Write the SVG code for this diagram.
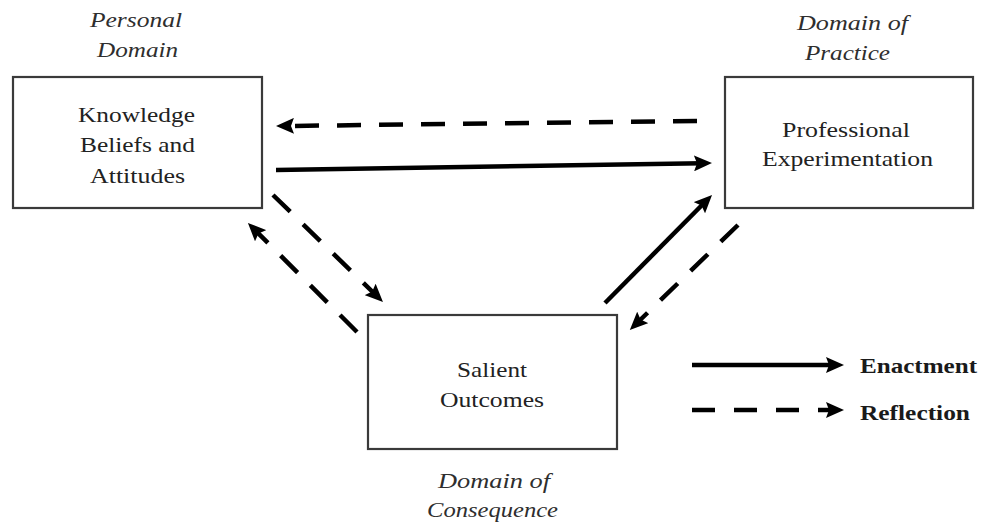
<svg xmlns="http://www.w3.org/2000/svg" width="983" height="523" viewBox="0 0 983 523">
  <style>
    .box { fill: #ffffff; stroke: #3a3a3a; stroke-width: 2.2; }
    .label { font-family: "Liberation Serif", "Times New Roman", serif; font-size: 22px; fill: #222222; }
    .domain { font-family: "Liberation Serif", "Times New Roman", serif; font-size: 22px; font-style: italic; fill: #2e2e2e; }
    .legend { font-family: "Liberation Serif", "Times New Roman", serif; font-size: 21px; font-weight: bold; fill: #1a1a1a; }
    .enact { fill: none; stroke: #000000; stroke-width: 4.5; marker-end: url(#head); }
    .reflect { fill: none; stroke: #000000; stroke-width: 4.5; stroke-dasharray: 24 18; marker-end: url(#head); }
  </style>
  <defs>
    <marker id="head" viewBox="0 0 18 16" refX="8" refY="8" markerWidth="18" markerHeight="16" markerUnits="userSpaceOnUse" orient="auto">
      <path d="M0,0 L18,8 L0,16 L3,8 Z" fill="#000000"/>
    </marker>
  </defs>

  <rect width="983" height="523" fill="#ffffff"/>

  <!-- Personal domain -->
  <g id="knowledge">
    <text class="domain" x="90" y="27" textLength="92" lengthAdjust="spacingAndGlyphs">Personal</text>
    <text class="domain" x="97" y="57" textLength="81" lengthAdjust="spacingAndGlyphs">Domain</text>
    <rect class="box" x="13" y="77" width="249" height="131"/>
    <text class="label" x="78" y="122" textLength="117" lengthAdjust="spacingAndGlyphs">Knowledge</text>
    <text class="label" x="80" y="152" textLength="115" lengthAdjust="spacingAndGlyphs">Beliefs and</text>
    <text class="label" x="90" y="183" textLength="95" lengthAdjust="spacingAndGlyphs">Attitudes</text>
  </g>

  <!-- Domain of practice -->
  <g id="experimentation">
    <text class="domain" x="797" y="30" textLength="111" lengthAdjust="spacingAndGlyphs">Domain of</text>
    <text class="domain" x="805" y="60" textLength="85" lengthAdjust="spacingAndGlyphs">Practice</text>
    <rect class="box" x="725" y="77" width="248" height="131"/>
    <text class="label" x="782" y="137" textLength="128" lengthAdjust="spacingAndGlyphs">Professional</text>
    <text class="label" x="762" y="166" textLength="171" lengthAdjust="spacingAndGlyphs">Experimentation</text>
  </g>

  <!-- Domain of consequence -->
  <g id="outcomes">
    <rect class="box" x="368" y="315" width="249" height="134"/>
    <text class="label" x="457" y="377" textLength="70" lengthAdjust="spacingAndGlyphs">Salient</text>
    <text class="label" x="440" y="407" textLength="104" lengthAdjust="spacingAndGlyphs">Outcomes</text>
    <text class="domain" x="438" y="488" textLength="112" lengthAdjust="spacingAndGlyphs">Domain of</text>
    <text class="domain" x="427" y="517" textLength="131" lengthAdjust="spacingAndGlyphs">Consequence</text>
  </g>

  <!-- Connectors -->
  <g id="connectors">
    <line class="reflect" x1="697" y1="121" x2="286" y2="126"/>
    <line class="enact" x1="276" y1="170" x2="702" y2="163.2"/>
    <line class="reflect" x1="273" y1="195" x2="375.8" y2="295"/>
    <line class="reflect" x1="357" y1="332" x2="255" y2="230"/>
    <line class="enact" x1="605" y1="303" x2="705" y2="202"/>
    <line class="reflect" x1="738" y1="225" x2="637" y2="323"/>
  </g>

  <!-- Legend -->
  <g id="legend">
    <line class="enact" x1="692" y1="365" x2="834" y2="365"/>
    <text class="legend" x="860" y="373" textLength="117" lengthAdjust="spacingAndGlyphs">Enactment</text>
    <line class="reflect" x1="692" y1="410" x2="834" y2="410" style="stroke-dasharray: 23 19"/>
    <text class="legend" x="860" y="420" textLength="110" lengthAdjust="spacingAndGlyphs">Reflection</text>
  </g>
</svg>
